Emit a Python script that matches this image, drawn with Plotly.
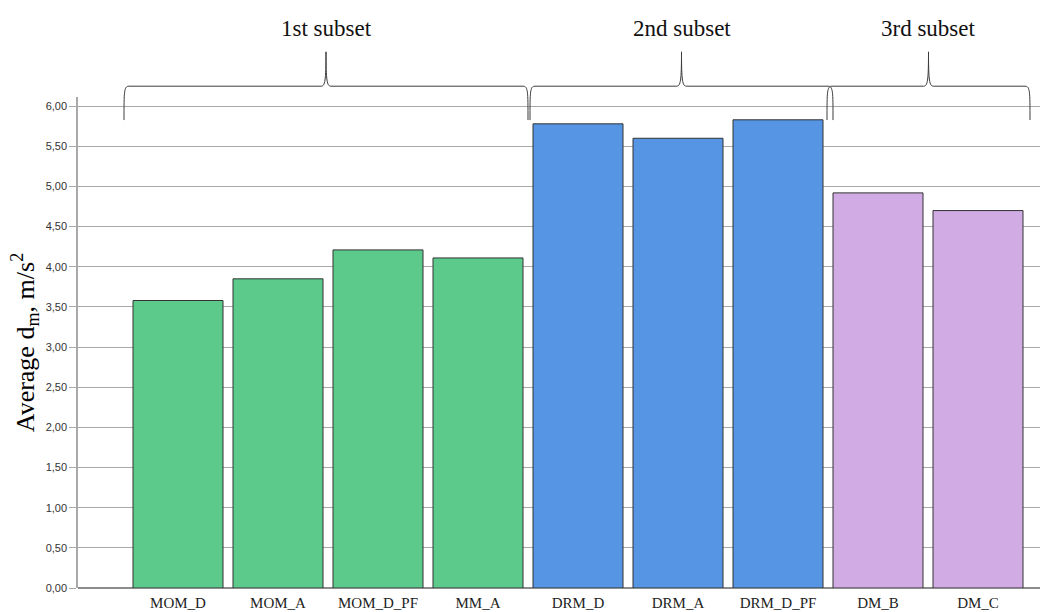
import plotly.graph_objects as go

# Categories, values and subset grouping
categories = ["MOM_D", "MOM_A", "MOM_D_PF", "MM_A",
              "DRM_D", "DRM_A", "DRM_D_PF", "DM_B", "DM_C"]
avg_dm = [3.58, 3.85, 4.21, 4.11, 5.78, 5.60, 5.83, 4.92, 4.70]
subset_of = [0, 0, 0, 0, 1, 1, 1, 2, 2]
subset_names = ["1st subset", "2nd subset", "3rd subset"]
subset_colors = ["#5bca8b", "#5595e4", "#d1abe4"]
y_ticks = [0.0, 0.5, 1.0, 1.5, 2.0, 2.5, 3.0, 3.5, 4.0, 4.5, 5.0, 5.5, 6.0]
y_tick_text = ["0,00", "0,50", "1,00", "1,50", "2,00", "2,50",
               "3,00", "3,50", "4,00", "4,50", "5,00", "5,50", "6,00"]

fig = go.Figure()
fig.add_trace(go.Bar(
    x=categories,
    y=avg_dm,
    marker=dict(color=[subset_colors[s] for s in subset_of],
                line=dict(color="#333333", width=1)),
    width=0.9,
    showlegend=False,
))

serif = "Liberation Serif, Times New Roman, serif"

# Brace extents (in category units) around each subset
brace_pad = [(-0.54, 0.5), (-0.48, 0.55), (-0.51, 0.52)]

# Curly braces above each subset, with the subset label above the tip
shapes = []
annotations = []
for g, name in enumerate(subset_names):
    idx = [i for i, s in enumerate(subset_of) if s == g]
    x0 = idx[0] + brace_pad[g][0]
    x1 = idx[-1] + brace_pad[g][1]
    xm = (x0 + x1) / 2
    yb, yh, yt = 0.953, 1.022, 1.092  # paper y: ends, bar, tip
    r = 0.05
    path = (f"M {x0},{yb} C {x0},{yh - 0.01} {x0},{yh} {x0 + r},{yh} "
            f"L {xm - r},{yh} C {xm - 0.01},{yh} {xm},{yh + 0.01} {xm},{yt} "
            f"C {xm},{yh + 0.01} {xm + 0.01},{yh} {xm + r},{yh} "
            f"L {x1 - r},{yh} C {x1},{yh} {x1},{yh - 0.01} {x1},{yb}")
    shapes.append(dict(type="path", xref="x", yref="paper", path=path,
                       line=dict(color="#3c3c3c", width=1)))
    annotations.append(dict(x=xm, y=1.14, xref="x", yref="paper",
                            text=name, showarrow=False, yanchor="middle",
                            font=dict(family=serif, size=23, color="#111111")))

fig.update_layout(
    width=1041, height=612,
    margin=dict(l=78, r=1, t=97, b=24),
    paper_bgcolor="white", plot_bgcolor="white",
    bargap=0.1,
    shapes=shapes,
    annotations=annotations,
    xaxis=dict(
        type="category",
        range=[-1.0, 8.62],
        automargin=False,
        showgrid=False,
        showline=False,
        ticks="outside",
        ticklen=1,
        tickcolor="rgba(0,0,0,0)",
        tickfont=dict(family=serif, size=15, color="#222222"),
    ),
    yaxis=dict(
        range=[0, 6.114],
        automargin=False,
        tickvals=y_ticks,
        ticktext=y_tick_text,
        showgrid=True,
        gridcolor="#a9a9a9",
        gridwidth=1.3,
        zeroline=True,
        zerolinecolor="#8c8c8c",
        zerolinewidth=1.5,
        showline=True,
        linecolor="#a9a9a9",
        linewidth=1.5,
        ticks="outside",
        ticklen=7,
        tickcolor="#a9a9a9",
        tickfont=dict(family="Liberation Sans, Arial, sans-serif",
                      size=11, color="#333333"),
        title=dict(text="Average d<sub>m</sub>, m/s<sup>2</sup>",
                   font=dict(family=serif, size=26, color="#000000"),
                   standoff=4),
    ),
)

fig.write_html("out.html")
